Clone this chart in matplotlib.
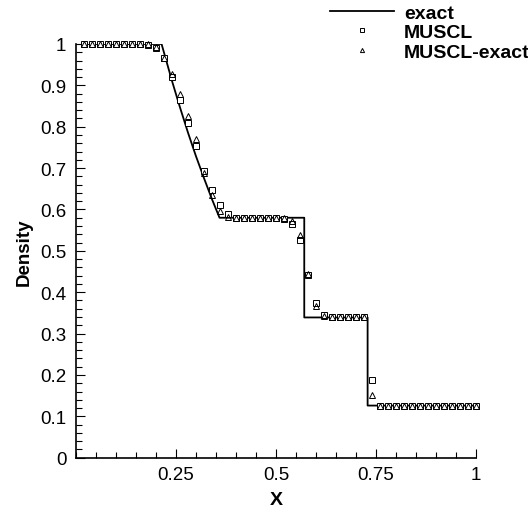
import numpy as np
import matplotlib
matplotlib.use("Agg")
import matplotlib.pyplot as plt
from matplotlib.ticker import MultipleLocator, FormatStrFormatter

plt.rcParams['font.family'] = ['Liberation Sans', 'DejaVu Sans']

# exact solution
x_exact = [0.0, 0.214, 0.24, 0.26, 0.28, 0.30, 0.32, 0.34, 0.359,
           0.571, 0.571, 0.7295, 0.7295, 1.0]
rho_exact = [1.0, 1.0, 0.911, 0.847, 0.786, 0.729, 0.676, 0.625, 0.58,
             0.58, 0.339, 0.339, 0.126, 0.126]

# cell positions of the numerical results
x_num = [0.02, 0.04, 0.06, 0.08, 0.10, 0.12, 0.14, 0.16, 0.18, 0.20,
         0.22, 0.24, 0.26, 0.28, 0.30, 0.32, 0.34, 0.36, 0.38, 0.40,
         0.42, 0.44, 0.46, 0.48, 0.50, 0.52, 0.54, 0.56, 0.58, 0.60,
         0.62, 0.64, 0.66, 0.68, 0.70, 0.72, 0.74, 0.76, 0.78, 0.80,
         0.82, 0.84, 0.86, 0.88, 0.90, 0.92, 0.94, 0.96, 0.98, 1.00]

rho_muscl = [1.0, 1.0, 1.0, 1.0, 1.0, 1.0, 1.0, 1.0, 0.997, 0.99,
             0.965, 0.92, 0.865, 0.809, 0.754, 0.694, 0.648, 0.61, 0.589, 0.58,
             0.58, 0.58, 0.58, 0.58, 0.58, 0.578, 0.564, 0.526, 0.441, 0.373,
             0.344, 0.34, 0.34, 0.34, 0.34, 0.34, 0.188, 0.125, 0.125, 0.125,
             0.125, 0.125, 0.125, 0.125, 0.125, 0.125, 0.125, 0.125, 0.125, 0.125]

rho_muscl_exact = [1.0, 1.0, 1.0, 1.0, 1.0, 1.0, 1.0, 1.0, 1.0, 0.992,
                   0.966, 0.927, 0.878, 0.825, 0.77, 0.689, 0.636, 0.596, 0.581, 0.58,
                   0.58, 0.58, 0.58, 0.58, 0.58, 0.58, 0.572, 0.538, 0.443, 0.366,
                   0.342, 0.34, 0.34, 0.34, 0.34, 0.34, 0.152, 0.125, 0.125, 0.125,
                   0.125, 0.125, 0.125, 0.125, 0.125, 0.125, 0.125, 0.125, 0.125, 0.125]

fig = plt.figure(figsize=(5.28, 5.10), dpi=100)
ax = fig.add_axes([0.144, 0.1006, 0.757, 0.8112])

ax.plot(x_exact, rho_exact, 'k-', lw=1.3, label='exact', zorder=2)
ax.plot(x_num, rho_muscl, ls='none', marker='s', ms=4.8, mfc='white',
        mec='k', mew=0.7, label='MUSCL', clip_on=False, zorder=3)
ax.plot(x_num, rho_muscl_exact, ls='none', marker='^', ms=5, mfc='none',
        mec='k', mew=0.7, label='MUSCL-exact', clip_on=False, zorder=4)

ax.set_xlim(0, 1)
ax.set_ylim(0, 1)
ax.set_xticks([0.25, 0.5, 0.75, 1.0])
ax.xaxis.set_minor_locator(MultipleLocator(0.05))
ax.yaxis.set_major_locator(MultipleLocator(0.1))
ax.yaxis.set_minor_locator(MultipleLocator(0.02))
ax.xaxis.set_major_formatter(FormatStrFormatter('%g'))
ax.yaxis.set_major_formatter(FormatStrFormatter('%g'))

ax.spines['top'].set_visible(False)
ax.spines['right'].set_visible(False)
ax.spines['left'].set_linewidth(1.2)
ax.spines['bottom'].set_linewidth(1.2)

ax.tick_params(which='major', direction='in', length=6.7, width=0.8,
               labelsize=13.5, pad=7)
ax.tick_params(axis='x', which='major', pad=6)
ax.tick_params(which='minor', direction='in', length=4, width=0.8)

ax.set_xlabel('X', fontsize=14, fontweight='bold', labelpad=6)
ax.set_ylabel('Density', fontsize=13.5, fontweight='bold', labelpad=5)

leg = ax.legend(loc='upper left', bbox_to_anchor=(330 / 528, 1 - 5 / 510),
                bbox_transform=fig.transFigure, frameon=False,
                prop={'weight': 'bold', 'size': 14}, borderpad=0,
                borderaxespad=0, handlelength=3.3, handletextpad=0.5,
                labelspacing=0.1, markerscale=0.6)

fig.savefig('out.png', dpi=100)
